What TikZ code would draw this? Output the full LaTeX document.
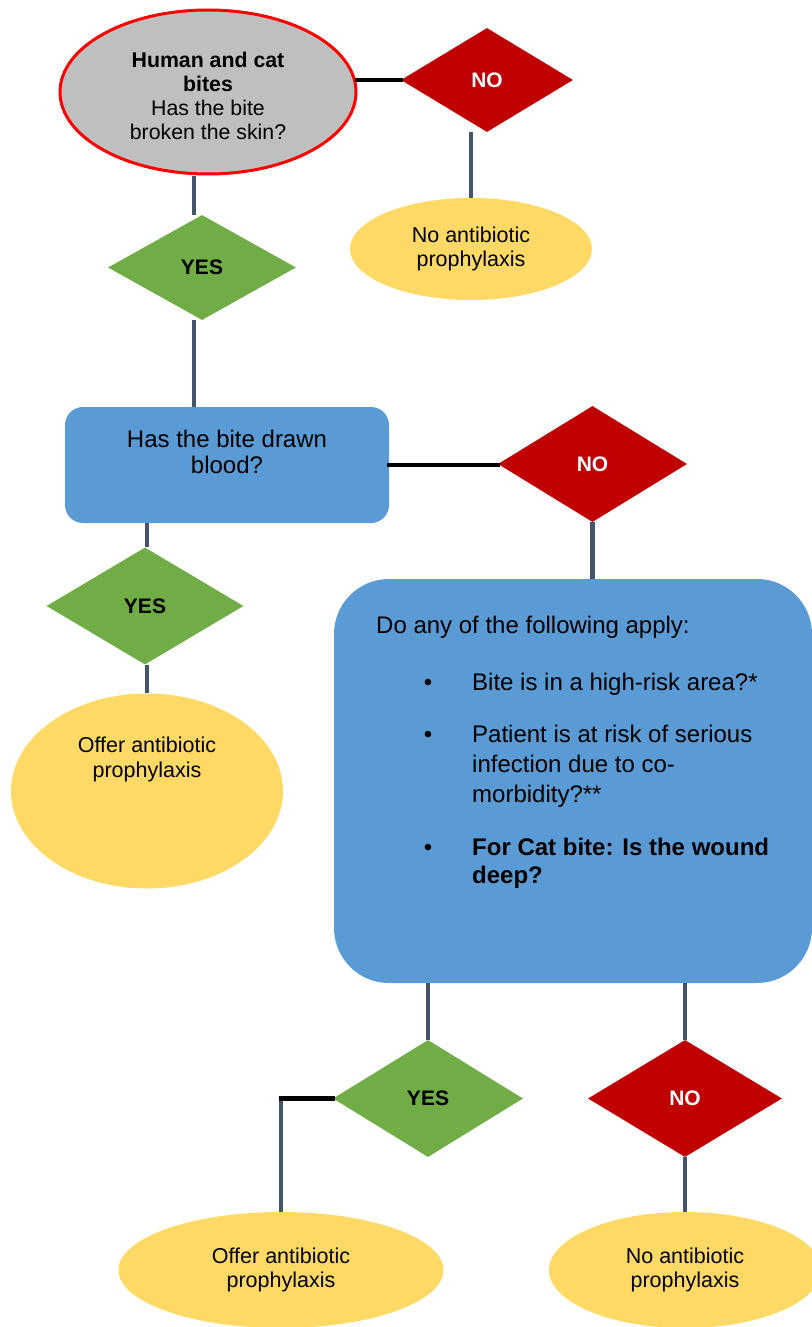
\documentclass[tikz,border=0pt]{standalone}
\usepackage{fontspec}
\setmainfont{Liberation Sans}
\usetikzlibrary{positioning, calc}
\usetikzlibrary{shapes.geometric}
\definecolor{bitegrey}{HTML}{BFBFBF}
\definecolor{nored}{HTML}{C00000}
\definecolor{yesgreen}{HTML}{70AD47}
\definecolor{askblue}{HTML}{5B9BD5}
\definecolor{endyellow}{HTML}{FFD966}
\definecolor{linkslate}{HTML}{44546A}
\tikzset{
    nobox/.style={diamond, fill=nored, text=white, inner sep=0pt, font=\fontsize{21}{24}\selectfont\bfseries},
    yesbox/.style={diamond, fill=yesgreen, inner sep=0pt, font=\fontsize{21}{24}\selectfont\bfseries},
    endbox/.style={ellipse, fill=endyellow, inner sep=0pt, align=center, font=\fontsize{21.5}{24}\selectfont},
    askbox/.style={rectangle, fill=askblue, inner sep=0pt},
    asktext/.style={inner sep=0pt, align=center, font=\fontsize{24}{26}\selectfont},
    endtext/.style={inner sep=0pt, align=center, font=\fontsize{21.5}{25}\selectfont},
    link/.style={draw=linkslate, line width=4.5pt},
    blacklink/.style={draw=black, line width=4.5pt, line cap=rect}
}

\begin{document}
\begin{tikzpicture}[x=1pt, y=-1pt]
                \useasboundingbox (0,0) rectangle (811,1327);
                \node[ellipse, fill=bitegrey, draw=red, line width=3pt, minimum width=296, minimum height=164,
                      inner sep=0pt, align=center, font=\fontsize{21.3}{24}\selectfont] (bites) at (208,92) {};
                \node[inner sep=0pt, align=center, font=\fontsize{21.3}{24}\selectfont] (bitestext) at ([yshift=-3.5]bites.center)
                      {\textbf{Human and cat}\\\textbf{bites}\\Has the bite\\broken the skin?};
                \node[nobox, minimum width=172, minimum height=104] (skinno) at (487,80) {NO};
                \node[endbox, minimum width=242, minimum height=102] (skinnone) at (471,249) {No antibiotic\\prophylaxis};
                \node[yesbox, minimum width=188, minimum height=105] (skinyes) at (202,267.5) {YES};
                \node[askbox, rounded corners=18, minimum width=324, minimum height=116] (blood) at (227,465) {};
                \node[asktext] (bloodtext) at ([yshift=13.5]blood.center) {Has the bite drawn\\blood?};
                \node[nobox, minimum width=189, minimum height=116] (bloodno) at (592.5,464) {NO};
                \node[yesbox, minimum width=197, minimum height=117] (bloodyes) at (145,606) {YES};
                \node[endbox, minimum width=272, minimum height=195] (offerA) at (147,791) {};
                \node[endtext] (offerAtext) at ([yshift=32]offerA.center) {Offer antibiotic\\prophylaxis};
                \node[askbox, rounded corners=55, minimum width=478, minimum height=404] (apply) at (573,781) {};
                \node[asktext, anchor=base west] (applyq) at (376,633) {Do any of the following apply:};
                \foreach \y in {690,742,855}
                    \node[asktext, anchor=base] (dot\y) at (428,\y) {\textbullet};
                \node[asktext, anchor=base west] (riskarea) at (472,690) {Bite is in a high-risk area?*};
                \node[asktext, anchor=north west, align=left, font=\fontsize{24}{30}\selectfont] (riskill) at (472,724.5)
                      {Patient is at risk of serious\\infection due to co-\\morbidity?**};
                \node[asktext, anchor=north west, align=left, font=\fontsize{24}{28}\selectfont\bfseries] (riskcat) at (472,837.5)
                      {For Cat bite: Is the wound\\deep?};
                \node[yesbox, minimum width=190, minimum height=117] (applyyes) at (428,1098.5) {YES};
                \node[nobox, minimum width=194, minimum height=117] (applyno) at (685,1098.5) {NO};
                \node[endbox, minimum width=325, minimum height=116] (offerB) at (281,1270) {Offer antibiotic\\prophylaxis};
                \node[endbox, minimum width=272, minimum height=116] (noneB) at (685,1270) {No antibiotic\\prophylaxis};
                \coordinate (stemA) at ([xshift=-14]bites.south);
                \coordinate (stemB) at (offerA.north);
                \draw[link] (stemA) -- (stemA |- skinyes.north);
                \draw[link] (stemA |- skinyes.south) -- (stemA |- blood.north);
                \draw[blacklink] (skinno.west) -- (skinno.west -| bites.east);
                \draw[link] (skinnone.north) -- (skinnone.north |- skinno.south);
                \draw[blacklink] (blood.east) -- (blood.east -| bloodno.west);
                \draw[link] (bloodno.south) -- (bloodno.south |- apply.north);
                \draw[link] (stemB |- blood.south) -- (stemB |- bloodyes.north);
                \draw[link] (stemB |- bloodyes.south) -- (offerA.north);
                \draw[link] (applyyes.north) -- (applyyes.north |- apply.south);
                \draw[link] (applyno.north) -- (applyno.north |- apply.south);
                \coordinate (bend) at (applyyes.west -| offerB.north);
                \draw[link] (bend) -- (offerB.north);
                \draw[blacklink] (applyyes.west) -- (bend);
                \draw[link] (applyno.south) -- (noneB.north);
            \end{tikzpicture}
\end{document}
